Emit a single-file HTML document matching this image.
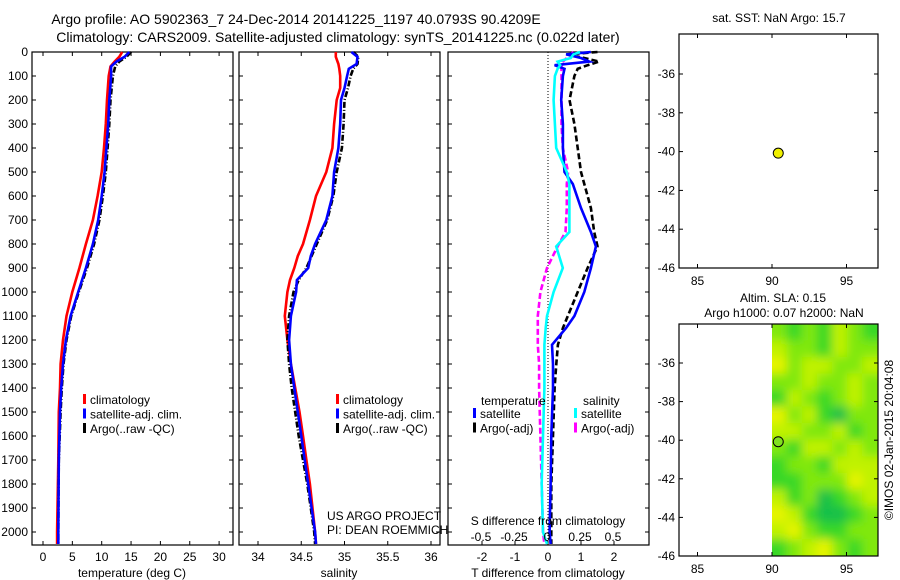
<!DOCTYPE html>
<html><head><meta charset="utf-8"><style>
html,body{margin:0;padding:0;background:#fff;overflow:hidden;width:900px;height:580px;}
svg{display:block;font-family:"Liberation Sans",sans-serif;}
</style></head><body>
<svg id="fig" width="900" height="580" viewBox="0 0 900 580" xmlns="http://www.w3.org/2000/svg">
<text x="296" y="24" font-size="14" text-anchor="middle">Argo profile: AO 5902363_7 24-Dec-2014 20141225_1197 40.0793S 90.4209E</text>
<text x="338" y="42" font-size="14" text-anchor="middle">Climatology: CARS2009. Satellite-adjusted climatology: synTS_20141225.nc (0.022d later)</text>
<g id="g"></g>
</svg>
<script>
// ---- data ----
const depthT = [0,20,40,60,100,200,300,400,500,600,700,800,900,1000,1100,1200,1300,1400,1500,1700,2000,2050];
const tempClim = [13.5,13.0,12.2,11.5,11.2,10.9,10.7,10.4,10.0,9.3,8.5,7.3,6.2,5.0,4.0,3.4,3.0,2.9,2.7,2.6,2.4,2.4];
const tempSat  = [14.7,13.9,12.5,11.6,11.6,11.3,11.1,10.8,10.5,10.0,9.4,8.5,7.3,6.0,4.7,3.9,3.4,3.1,2.9,2.7,2.6,2.6];
const tempArgo = [15.0,14.2,13.0,12.3,11.9,11.5,11.3,11.0,10.7,10.2,9.6,8.7,7.5,6.1,4.8,4.0,3.5,3.2,3.0,2.7,2.6,2.6];
const depthS = [0,20,50,70,100,150,200,300,400,500,600,700,800,850,900,950,1000,1100,1200,1300,1400,1500,1600,1700,1800,1900,2000,2050];
const salClim = [34.90,34.90,34.93,34.94,34.95,34.95,34.91,34.88,34.86,34.79,34.67,34.60,34.52,34.46,34.42,34.37,34.34,34.31,34.34,34.38,34.43,34.48,34.52,34.56,34.60,34.63,34.66,34.67];
const salSat  = [35.08,35.15,35.14,35.05,35.03,35.00,34.96,34.95,34.93,34.88,34.86,34.79,34.66,34.61,34.58,34.45,34.44,34.38,34.36,34.38,34.42,34.46,34.50,34.54,34.58,34.62,34.66,34.67];
const salArgo = [35.10,35.16,35.15,35.10,35.07,35.04,35.00,34.99,34.97,34.91,34.87,34.80,34.68,34.62,34.56,34.47,34.41,34.36,34.34,34.36,34.39,34.43,34.47,34.52,34.57,34.61,34.65,34.66];
const depthD = [0,10,25,40,55,70,100,200,300,400,500,550,650,750,810,900,1000,1100,1150,1220,1300,1400,1600,1800,2000,2050];
const dTsat  = [1.3,0.55,1.0,1.25,0.2,0.5,0.45,0.4,0.45,0.45,0.5,0.75,1.0,1.3,1.45,1.3,1.1,0.8,0.55,0.12,0.15,0.15,0.1,0.08,0.05,0.08];
const dTargo = [1.5,0.6,1.1,1.55,1.2,0.9,0.8,0.65,0.8,0.9,1.0,1.1,1.3,1.4,1.5,1.2,0.9,0.6,0.45,0.3,0.25,0.2,0.15,0.1,0.1,0.1];
const dSsat  = [0.25,0.2,0.18,0.08,0.1,0.08,0.06,0.05,0.06,0.07,0.15,0.17,0.17,0.17,0.07,0.12,0.05,0.0,-0.01,-0.02,-0.02,-0.02,-0.03,-0.04,-0.03,0.0];
const dSargo = [0.2,0.18,0.15,0.12,0.11,0.11,0.11,0.11,0.11,0.12,0.16,0.15,0.15,0.14,0.08,0.0,-0.05,-0.07,-0.07,-0.07,-0.06,-0.06,-0.05,-0.04,-0.03,-0.02];
const depthTicks = [0,100,200,300,400,500,600,700,800,900,1000,1100,1200,1300,1400,1500,1600,1700,1800,1900,2000];
const tTicks = [0,5,10,15,20,25,30];
const sTicks = [34,34.5,35,35.5,36];
const dTTicks = [-2,-1,0,1,2];
const dSTicks = [-0.5,-0.25,0,0.25,0.5];
const latTicks = [-36,-38,-40,-42,-44,-46];
const lonTicks = [85,90,95];
const argoLon = 90.42, argoLat = -40.08;
const slaGrid = [
[2,1,2,1,3,2,1],[3,2,2,1,3,2,2],[4,2,3,3,2,2,3],[2,2,3,2,2,3,2],[1,3,2,1,2,3,2],
[4,2,3,1,0,2,2],[3,3,2,2,3,1,2],[2,1,3,3,2,3,2],[1,2,2,1,3,3,3],[1,1,2,2,2,4,3],
[3,1,2,0,1,2,3],[4,3,1,0,0,1,2],[3,4,2,1,1,2,2],[1,2,3,4,2,1,2]];

// ---- helpers ----
const NS="http://www.w3.org/2000/svg";
const G=document.getElementById('g');
function el(tag,attrs,parent){const e=document.createElementNS(NS,tag);for(const k in attrs)e.setAttribute(k,attrs[k]);(parent||G).appendChild(e);return e;}
function txt(x,y,s,size,anchor,parent){const t=el('text',{x:x,y:y,'font-size':size,'text-anchor':anchor||'middle'},parent);t.textContent=s;return t;}
const Y0=52, YS=0.24, YB=545;
const yD=d=>Y0+d*YS;
const xT=v=>43+v*5.87;
const xS=v=>258+(v-34)*86.5;
const xDT=v=>548+v*33;
const xDS=v=>547+v*132;
const xLon=v=>772+(v-90)*14.9;
const yLat1=v=>268-(v+46)*19.4;
const yLat2=v=>556-(v+46)*19.3;

function box(x1,y1,x2,y2,name){const r=el('rect',{x:x1,y:y1,width:x2-x1,height:y2-y1,fill:'none',stroke:'#000','stroke-width':1.2});

}
function line(xs,ys,color,w,dash,name){
 let d='';for(let i=0;i<xs.length;i++)d+=(i?'L':'M')+xs[i].toFixed(1)+' '+ys[i].toFixed(1);
 const p=el('path',{d:d,fill:'none',stroke:color,'stroke-width':w,'stroke-dasharray':dash||'none'});
 
 }

function depthPanel(x1,x2,showLabels){
 depthTicks.forEach(d=>{const y=yD(d);
  el('line',{x1:x1,y1:y,x2:x1+4,y2:y,stroke:'#000'});
  el('line',{x1:x2,y1:y,x2:x2-4,y2:y,stroke:'#000'});
  if(showLabels){const t=txt(x1-4,y+4,String(d),12,'end');
   
   }
 });
}
function xTicks(x1,x2,ticks,fx,labelY,top){
 ticks.forEach(v=>{const x=fx(v);
  el('line',{x1:x,y1:YB,x2:x,y2:YB-4,stroke:'#000'});
  if(top)el('line',{x1:x,y1:Y0,x2:x,y2:Y0+4,stroke:'#000'});
  if(labelY){const t=txt(x,labelY,String(v),12);
   
   }
 });
}

// ---- panel 1 temperature ----
box(32,Y0,233,YB,'temperature-panel');
depthPanel(32,233,true);
xTicks(32,233,tTicks,xT,561,true);
line(tempClim.map(xT),depthT.map(yD),'#ff0000',2.6,null,'temp-climatology-line');
line(tempArgo.map(xT),depthT.map(yD),'#000',2.6,'6 2 1 2','temp-argo-line');
line(tempSat.map(xT),depthT.map(yD),'#0000ff',2.6,null,'temp-satellite-line');
txt(132,577,'temperature (deg C)',12);

// ---- panel 2 salinity ----
box(239,Y0,440,YB,'salinity-panel');
depthPanel(239,440,false);
xTicks(239,440,sTicks,xS,561,true);
line(salClim.map(xS),depthS.map(yD),'#ff0000',2.6,null,'sal-climatology-line');
line(salArgo.map(xS),depthS.map(yD),'#000',2.6,'6 2 1 2','sal-argo-line');
line(salSat.map(xS),depthS.map(yD),'#0000ff',2.6,null,'sal-satellite-line');
txt(339,577,'salinity',12);
txt(327,520,'US ARGO PROJECT',12,'start');
txt(327,534,'PI: DEAN ROEMMICH',12,'start');

// legends panel 1 & 2
function legend(x,y,items){items.forEach((it,i)=>{
 const r=el('rect',{x:x,y:y+i*14.5-10,width:3,height:10,fill:it[0]});
 
 
 const t=txt(x+7,y+i*14.5,it[1],12,'start');
 
 });}
legend(83,404,[['#ff0000','climatology'],['#0000ff','satellite-adj. clim.'],['#000','Argo(..raw -QC)']]);
legend(336,404,[['#ff0000','climatology'],['#0000ff','satellite-adj. clim.'],['#000','Argo(..raw -QC)']]);

// ---- panel 3 differences ----
box(448,Y0,649,YB,'difference-panel');
depthPanel(448,649,false);
xTicks(448,649,dTTicks,xDT,561,false);
el('line',{x1:xDT(0),y1:Y0,x2:xDT(0),y2:YB,stroke:'#000','stroke-width':1,'stroke-dasharray':'1 2'});
line(dSargo.map(xDS),depthD.map(yD),'#ff00ff',2.6,'6 3','sal-diff-argo-line');
line(dTargo.map(xDT),depthD.map(yD),'#000',2.6,'6 3','temp-diff-argo-line');
line(dTsat.map(xDT),depthD.map(yD),'#0000ff',2.6,null,'temp-diff-satellite-line');
line(dSsat.map(xDS),depthD.map(yD),'#00ffff',2.6,null,'sal-diff-satellite-line');
dSTicks.forEach(v=>{const t=txt(xDS(v),541,String(v),12);
 
 });
txt(548,525,'S difference from climatology',12);
txt(548,577,'T difference from climatology',12);
txt(481,405,'temperature',12,'start');
txt(583,405,'salinity',12,'start');
legend(473,418,[['#0000ff','satellite'],['#000','Argo(-adj)']]);
legend(574,418,[['#00ffff','satellite'],['#ff00ff','Argo(-adj)']]);

// ---- map panels ----
function mapAxes(top,bottom,yLat){
 latTicks.forEach(v=>{const y=yLat(v);
  el('line',{x1:679,y1:y,x2:683,y2:y,stroke:'#000'});
  el('line',{x1:878,y1:y,x2:874,y2:y,stroke:'#000'});
  const t=txt(675,y+4,String(v),12,'end');
  
  });
 lonTicks.forEach(v=>{const x=xLon(v);
  el('line',{x1:x,y1:bottom,x2:x,y2:bottom-4,stroke:'#000'});
  el('line',{x1:x,y1:top,x2:x,y2:top+4,stroke:'#000'});
  const t=txt(x,bottom+17,String(v),12);
  
  });
}
// top map
txt(779,22,'sat. SST: NaN Argo: 15.7',12);
mapAxes(34,268,yLat1);
box(679,34,878,268,'sst-map');
const d1=el('circle',{cx:xLon(argoLon),cy:yLat1(argoLat),r:5,fill:'#f0f000',stroke:'#000','stroke-width':1});



// bottom map
txt(783,302,'Altim. SLA: 0.15',12);
txt(784,317,'Argo h1000: 0.07 h2000: NaN',12);
const colors=['#18c048','#38d828','#80e810','#c0f200','#e6f400'];
const defs=el('defs',{});
const f=el('filter',{id:'bl',x:'-0.1',y:'-0.1',width:'1.2',height:'1.2'},defs);
el('feGaussianBlur',{stdDeviation:'5'},f);
const cp=el('clipPath',{id:'cp'},defs);
el('rect',{x:xLon(90),y:324,width:878-xLon(90),height:232},cp);
const hg=el('g',{'clip-path':'url(#cp)'});


const inner=el('g',{filter:'url(#bl)'},hg);
const nR=slaGrid.length,nC=slaGrid[0].length;
const lonMax=97.1, latTop=-34.0;
for(let r=0;r<nR;r++)for(let c=0;c<nC;c++){
 const lo0=90+c*(lonMax-90)/nC, lo1=90+(c+1)*(lonMax-90)/nC;
 const la0=latTop-r*(latTop+46)/nR, la1=latTop-(r+1)*(latTop+46)/nR;
 const x0=xLon(lo0)-(c==0?12:0), x1=xLon(lo1)+(c==nC-1?12:0);
 const y0=yLat2(la0)-(r==0?12:0), y1=yLat2(la1)+(r==nR-1?12:0);
 const cell=el('rect',{x:x0-0.5,y:y0-0.5,width:x1-x0+1,height:y1-y0+1,fill:colors[slaGrid[r][c]]},inner);
 
 
}
mapAxes(324,556,yLat2);
box(679,324,878,556,'sla-map');
const d2=el('circle',{cx:xLon(argoLon),cy:yLat2(argoLat),r:5,fill:'#80e020',stroke:'#000','stroke-width':1});


const cr=txt(0,0,'©IMOS 02-Jan-2015 20:04:08',12);
cr.setAttribute('transform','translate(893,440) rotate(-90)');


</script>
</body></html>
